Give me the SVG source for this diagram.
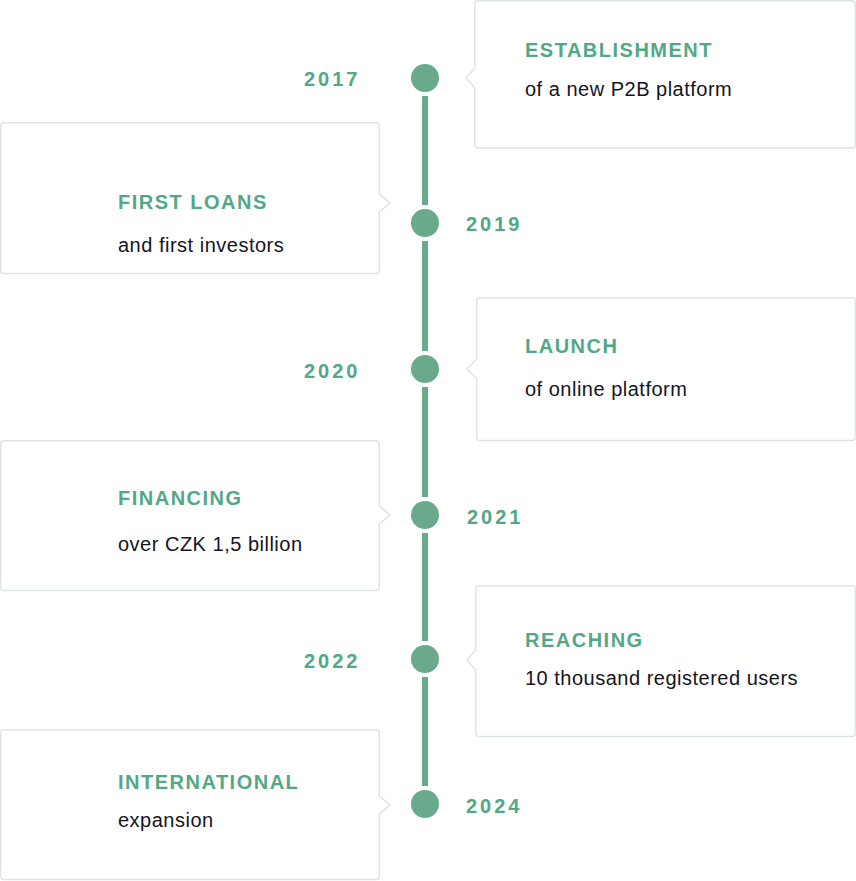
<svg xmlns="http://www.w3.org/2000/svg" width="856" height="881" viewBox="0 0 856 881">
<style>
.box{fill:#fff;stroke:#dfe4e7;stroke-width:1.5}
.dot{fill:#69a98c}
.line{stroke:#69a98c;stroke-width:6;fill:none}
.title{font-family:"Liberation Sans",Arial,sans-serif;font-weight:bold;font-size:20px;letter-spacing:1.5px;fill:#52a886}
.body{font-family:"Liberation Sans",Arial,sans-serif;font-size:20px;letter-spacing:0.5px;fill:#14141e}
.year{font-family:"Liberation Sans",Arial,sans-serif;font-weight:bold;font-size:20px;letter-spacing:3px;fill:#52a886}
</style>
<rect width="856" height="881" fill="#fff"/>
<g id="connectors">
<line class="line" x1="425" y1="96" x2="425" y2="205"/>
<line class="line" x1="425" y1="241" x2="425" y2="351"/>
<line class="line" x1="425" y1="387" x2="425" y2="497"/>
<line class="line" x1="425" y1="533" x2="425" y2="641"/>
<line class="line" x1="425" y1="677" x2="425" y2="786"/>
</g>
<g id="node-2017">
<path class="box" d="M478 0.75 H852 Q855.25 0.75 855.25 4 V145 Q855.25 148 852 148 H478 Q474.75 148 474.75 145 V88 L466 78 L474.75 68 V4 Q474.75 0.75 478 0.75 Z"/>
<text class="title" x="525" y="57">ESTABLISHMENT</text>
<text class="body" x="525" y="96">of a new P2B platform</text>
<circle class="dot" cx="425" cy="78" r="14"/>
<text class="year" x="304" y="86">2017</text>
</g>
<g id="node-2019">
<path class="box" d="M4 122.75 H376 Q379.25 122.75 379.25 126 V194 L390 203 L379.25 212 V270 Q379.25 273.5 376 273.5 H4 Q0.75 273.5 0.75 270 V126 Q0.75 122.75 4 122.75 Z"/>
<text class="title" x="118" y="209">FIRST LOANS</text>
<text class="body" x="118" y="252">and first investors</text>
<circle class="dot" cx="425" cy="223" r="14"/>
<text class="year" x="466" y="231">2019</text>
</g>
<g id="node-2020">
<path class="box" d="M480 297.75 H852 Q855.25 297.75 855.25 301 V437 Q855.25 440.5 852 440.5 H480 Q476.75 440.5 476.75 437 V379 L467 369 L476.75 359 V301 Q476.75 297.75 480 297.75 Z"/>
<text class="title" x="525" y="353">LAUNCH</text>
<text class="body" x="525" y="396">of online platform</text>
<circle class="dot" cx="425" cy="369" r="14"/>
<text class="year" x="304" y="378">2020</text>
</g>
<g id="node-2021">
<path class="box" d="M4 440.75 H376 Q379.25 440.75 379.25 444 V506 L390 515 L379.25 524 V587 Q379.25 590.5 376 590.5 H4 Q0.75 590.5 0.75 587 V444 Q0.75 440.75 4 440.75 Z"/>
<text class="title" x="118" y="505">FINANCING</text>
<text class="body" x="118" y="551">over CZK 1,5 billion</text>
<circle class="dot" cx="425" cy="515" r="14"/>
<text class="year" x="467" y="524">2021</text>
</g>
<g id="node-2022">
<path class="box" d="M479 585.75 H852 Q855.25 585.75 855.25 589 V733 Q855.25 736.5 852 736.5 H479 Q475.75 736.5 475.75 733 V670 L467 660 L475.75 650 V589 Q475.75 585.75 479 585.75 Z"/>
<text class="title" x="525" y="647">REACHING</text>
<text class="body" x="525" y="685">10 thousand registered users</text>
<circle class="dot" cx="425" cy="659" r="14"/>
<text class="year" x="304" y="668">2022</text>
</g>
<g id="node-2024">
<path class="box" d="M4 729.75 H376 Q379.25 729.75 379.25 733 V796 L390 805 L379.25 814 V876 Q379.25 879.5 376 879.5 H4 Q0.75 879.5 0.75 876 V733 Q0.75 729.75 4 729.75 Z"/>
<text class="title" x="118" y="789">INTERNATIONAL</text>
<text class="body" x="118" y="827">expansion</text>
<circle class="dot" cx="425" cy="804" r="14"/>
<text class="year" x="466" y="813">2024</text>
</g>
</svg>
